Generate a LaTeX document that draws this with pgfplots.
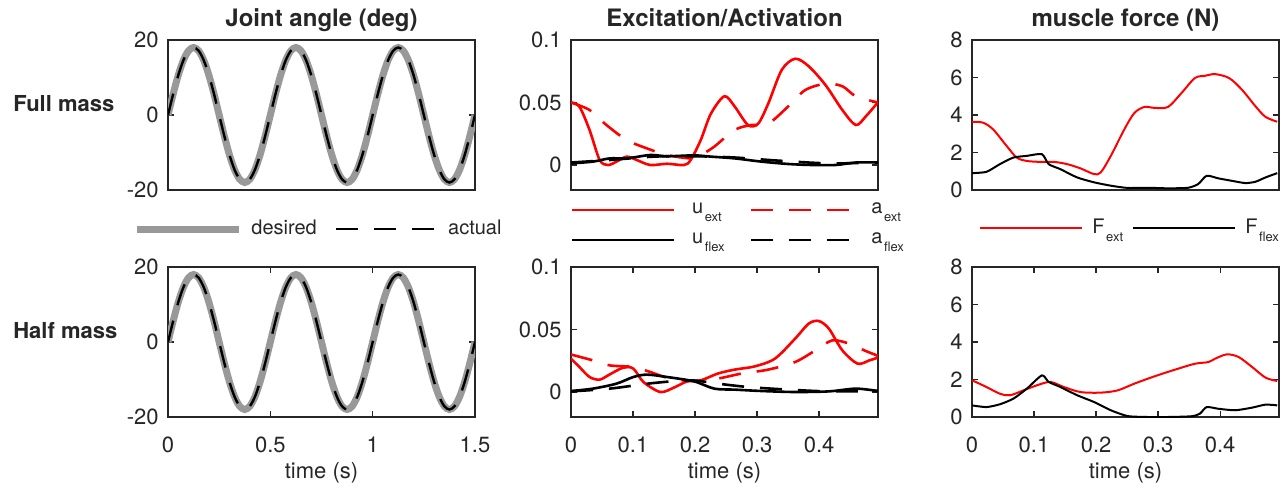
\documentclass[border=0pt]{standalone}
\usepackage{fontspec}
\setmainfont{TeX Gyre Heros}
\usepackage{pgfplots}
\pgfplotsset{compat=1.18}
\usepackage{pgfplotstable}
\definecolor{axc}{RGB}{38,38,38}
\definecolor{desgray}{RGB}{153,153,153}
\definecolor{mred}{RGB}{255,0,0}

\pgfplotstableread{
t y
0 0
0.025 5.562
0.05 10.580
0.075 14.562
0.1 17.119
0.125 18
0.15 17.119
0.175 14.562
0.2 10.580
0.225 5.562
0.25 0
0.275 -5.562
0.3 -10.580
0.325 -14.562
0.35 -17.119
0.375 -18
0.4 -17.119
0.425 -14.562
0.45 -10.580
0.475 -5.562
0.5 0
0.525 5.562
0.55 10.580
0.575 14.562
0.6 17.119
0.625 18
0.65 17.119
0.675 14.562
0.7 10.580
0.725 5.562
0.75 0
0.775 -5.562
0.8 -10.580
0.825 -14.562
0.85 -17.119
0.875 -18
0.9 -17.119
0.925 -14.562
0.95 -10.580
0.975 -5.562
1.0 0
1.025 5.562
1.05 10.580
1.075 14.562
1.1 17.119
1.125 18
1.15 17.119
1.175 14.562
1.2 10.580
1.225 5.562
1.25 0
1.275 -5.562
1.3 -10.580
1.325 -14.562
1.35 -17.119
1.375 -18
1.4 -17.119
1.425 -14.562
1.45 -10.580
1.475 -5.562
1.5 0
}\sinetab

\newcommand{\sub}[2]{#1\hspace{0.8pt}\raisebox{-4pt}[0pt][0pt]{\fontsize{6.5}{8}\selectfont #2}}

\pgfplotsset{
  base/.style={
    scale only axis, width=153.5pt, height=75pt,
    anchor=north west,
    axis line style={axc, line width=0.7pt},
    tick align=inside, major tick length=3pt,
    tick style={axc, line width=0.6pt},
    /pgf/number format/assume math mode=true,
    tick label style={font=\fontsize{11}{13}\selectfont, text=axc},
    xticklabel style={anchor=base, yshift=-17.5pt},
    yticklabel style={anchor=east, inner sep=0pt, xshift=-4.5pt},
    every axis title/.style={at={(0.5,1)}, anchor=base, yshift=6.7pt, font=\bfseries\fontsize{12}{14}\selectfont, text=axc},
    every axis x label/.style={at={(0.5,0)}, anchor=base, yshift=-30.5pt, font=\fontsize{11}{13}\selectfont, text=axc},
    every axis y label/.style={at={(-0.505,0.525)}, anchor=base west, inner sep=0pt, font=\bfseries\fontsize{11}{13}\selectfont, text=axc},
    legend style={draw=none, fill=none, font=\fontsize{10}{12}\selectfont, text=axc, inner sep=0pt, anchor=west,
      nodes={inner sep=0pt},
      /tikz/every odd column/.append style={column sep=4.5pt},
      /tikz/every even column/.append style={column sep=9pt}},
    legend image code/.code={\draw[##1] (0pt,0pt) -- (51pt,0pt);},
    legend cell align=left,
  },
  angle/.style={base, xmin=0, xmax=1.5, ymin=-20, ymax=20, ytick={-20,0,20}, yticklabels={-20,0,20}},
  exc/.style={base, xmin=0, xmax=0.495, ymin=-0.02, ymax=0.1, ytick={0,0.05,0.1}, yticklabels={0,0.05,0.1}},
  frc/.style={base, xmin=0, xmax=0.495, ymin=0, ymax=8, ytick={0,2,4,6,8}, yticklabels={0,2,4,6,8}},
  des/.style={desgray, line width=3.5pt, smooth},
  act/.style={black, line width=1.2pt, dash pattern=on 11pt off 8pt, smooth},
  uext/.style={mred, line width=1.3pt, smooth, tension=0.5},
  aext/.style={mred, line width=1.3pt, dash pattern=on 11pt off 8pt, smooth, tension=0.5},
  uflex/.style={black, line width=1.3pt, smooth, tension=0.5},
  aflex/.style={black, line width=1.3pt, dash pattern=on 11pt off 8pt, smooth, tension=0.5},
  fext/.style={mred, line width=1pt, smooth, tension=0.5},
  fflex/.style={black, line width=1pt, smooth, tension=0.4},
}

\begin{document}
\begin{tikzpicture}
% ---------------- Row 1 ----------------
\begin{axis}[angle, at={(84pt,-20pt)}, xtick=\empty, title={Joint angle (deg)}, ylabel={Full mass},
  legend columns=2, legend style={at={(-0.114,-0.26)}}]
\addplot[des] table[x=t,y=y] {\sinetab};
\addplot[act] table[x=t,y=y] {\sinetab};
\legend{desired, actual}
\end{axis}

\begin{axis}[exc, at={(285.5pt,-20pt)}, xtick=\empty, title={Excitation/Activation},
  legend columns=2, legend style={at={(-0.003,-0.233)}, /tikz/every odd column/.append style={column sep=8.5pt}, /tikz/every even column/.append style={column sep=12.5pt}, /tikz/row sep=8pt}]
\addplot[uext] coordinates {(0,0.050) (0.0136,0.0467) (0.0299,0.028) (0.0462,0.004) (0.0598,0.0) (0.0734,0.0027) (0.0897,0.0067) (0.1060,0.004) (0.1277,0.0) (0.1549,0.001) (0.1821,0.0) (0.1929,0.004) (0.2092,0.020) (0.2255,0.041) (0.2473,0.055) (0.2636,0.047) (0.2853,0.032) (0.3016,0.033) (0.3179,0.049) (0.3397,0.076) (0.3614,0.085) (0.3832,0.079) (0.4103,0.064) (0.4375,0.044) (0.4592,0.032) (0.4755,0.039) (0.4946,0.050)};
\addplot[aext] coordinates {(0,0.050) (0.0299,0.044) (0.0571,0.032) (0.0897,0.020) (0.1223,0.0133) (0.1549,0.008) (0.1929,0.0053) (0.2092,0.008) (0.2310,0.0147) (0.2636,0.028) (0.2908,0.032) (0.3179,0.033) (0.3505,0.047) (0.3777,0.060) (0.4103,0.065) (0.4375,0.063) (0.4592,0.055) (0.4946,0.050)};
\addplot[uflex] coordinates {(0,0.0013) (0.0353,0.0027) (0.0625,0.0053) (0.0897,0.0053) (0.1277,0.008) (0.1549,0.007) (0.1984,0.0077) (0.2255,0.0067) (0.2636,0.0053) (0.3071,0.0027) (0.3505,0.0008) (0.3886,0.0) (0.4266,0.0) (0.4592,0.002) (0.4946,0.002)};
\addplot[aflex] coordinates {(0,0.002) (0.0625,0.004) (0.1332,0.0067) (0.1984,0.007) (0.2636,0.006) (0.3342,0.0035) (0.4158,0.0013) (0.4946,0.002)};
\legend{\sub{u}{ext}, \sub{a}{ext}, \sub{u}{flex}, \sub{a}{flex}}
\end{axis}

\begin{axis}[frc, at={(486pt,-20pt)}, xtick=\empty, title={muscle force (N)},
  legend columns=2, legend style={at={(0.0228,-0.253)}, /tikz/every even column/.append style={column sep=4.5pt}}]
\addplot[fext] coordinates {(0,3.64) (0.0179,3.59) (0.0341,3.23) (0.0558,2.35) (0.0721,1.73) (0.0883,1.55) (0.1100,1.50) (0.1317,1.50) (0.1534,1.38) (0.1751,1.15) (0.1967,0.85) (0.2076,0.94) (0.2238,1.82) (0.2455,3.23) (0.2618,4.11) (0.2780,4.43) (0.2943,4.38) (0.3160,4.43) (0.3377,5.17) (0.3593,5.97) (0.3756,6.09) (0.3919,6.18) (0.4146,5.97) (0.4352,5.35) (0.4569,4.47) (0.4732,3.90) (0.4921,3.64)};
\addplot[fflex] coordinates {(0,0.90) (0.0233,0.97) (0.0450,1.38) (0.0667,1.73) (0.0883,1.82) (0.1127,1.91) (0.1236,1.38) (0.1425,1.11) (0.1696,0.67) (0.1967,0.41) (0.2238,0.23) (0.2509,0.11) (0.2835,0.12) (0.3160,0.09) (0.3485,0.12) (0.3648,0.32) (0.3783,0.76) (0.3973,0.62) (0.4190,0.49) (0.4407,0.37) (0.4569,0.44) (0.4732,0.67) (0.4921,0.90)};
\legend{\sub{F}{ext}, \sub{F}{flex}}
\end{axis}

% ---------------- Row 2 ----------------
\begin{axis}[angle, at={(84pt,-133.5pt)}, xtick={0,0.5,1,1.5}, xticklabels={0,0.5,1,1.5}, xlabel={time (s)}, ylabel={Half mass}]
\addplot[des] table[x=t,y=y] {\sinetab};
\addplot[act] table[x=t,y=y] {\sinetab};
\end{axis}

\begin{axis}[exc, at={(285.5pt,-133.5pt)}, xtick={0,0.1,0.2,0.3,0.4}, xticklabels={0,0.1,0.2,0.3,0.4}, xlabel={time (s)}]
\addplot[uext] coordinates {(0,0.0267) (0.0136,0.020) (0.0299,0.012) (0.0462,0.0099) (0.0625,0.0141) (0.0842,0.0195) (0.1005,0.0187) (0.1168,0.008) (0.1440,0.0) (0.1658,0.0035) (0.1875,0.0085) (0.2092,0.0093) (0.2364,0.0147) (0.2636,0.0179) (0.2962,0.0205) (0.3288,0.0267) (0.3614,0.0427) (0.3832,0.0547) (0.3995,0.0568) (0.4158,0.0507) (0.4375,0.0333) (0.4620,0.0227) (0.4810,0.0253) (0.4946,0.0275)};
\addplot[aext] coordinates {(0,0.030) (0.0353,0.0253) (0.0625,0.0213) (0.1005,0.020) (0.1277,0.016) (0.1603,0.0107) (0.1984,0.0088) (0.2364,0.0107) (0.2745,0.0147) (0.3179,0.0179) (0.3614,0.024) (0.3940,0.0333) (0.4212,0.0413) (0.4484,0.0387) (0.4728,0.0333) (0.4946,0.029)};
\addplot[uflex] coordinates {(0,0.0008) (0.0353,0.0027) (0.0734,0.0067) (0.1005,0.012) (0.1223,0.0139) (0.1549,0.012) (0.1984,0.0085) (0.2310,0.0027) (0.2636,0.0019) (0.3071,0.0008) (0.3614,0) (0.4158,0.0005) (0.4592,0.0027) (0.4946,0.0008)};
\addplot[aflex] coordinates {(0,0.0005) (0.0625,0.0027) (0.1332,0.0072) (0.1929,0.0093) (0.2364,0.0067) (0.2853,0.004) (0.3505,0.0019) (0.4158,0.0005) (0.4946,0.0008)};
\end{axis}

\begin{axis}[frc, at={(486pt,-133.5pt)}, xtick={0,0.1,0.2,0.3,0.4}, xticklabels={0,0.1,0.2,0.3,0.4}, xlabel={time (s)}]
\addplot[fext] coordinates {(0,1.96) (0.0233,1.60) (0.0450,1.24) (0.0612,1.16) (0.0829,1.42) (0.1046,1.69) (0.1263,1.87) (0.1480,1.60) (0.1751,1.33) (0.2076,1.30) (0.2347,1.42) (0.2618,1.78) (0.2943,2.17) (0.3268,2.52) (0.3593,2.84) (0.3810,2.93) (0.3919,3.11) (0.4108,3.34) (0.4298,3.20) (0.4515,2.67) (0.4732,2.10) (0.4921,1.92)};
\addplot[fflex] coordinates {(0,0.62) (0.0233,0.53) (0.0450,0.68) (0.0667,0.98) (0.0883,1.51) (0.1127,2.22) (0.1236,1.87) (0.1425,1.60) (0.1696,1.16) (0.1967,0.80) (0.2238,0.36) (0.2509,0.05) (0.2835,0.0) (0.3160,0.0) (0.3539,0.04) (0.3675,0.18) (0.3783,0.53) (0.3973,0.44) (0.4244,0.36) (0.4515,0.50) (0.4732,0.66) (0.4921,0.62)};
\end{axis}

\pgfresetboundingbox
\useasboundingbox (0,0) rectangle (641.5pt,-243.5pt);
\end{tikzpicture}
\end{document}
